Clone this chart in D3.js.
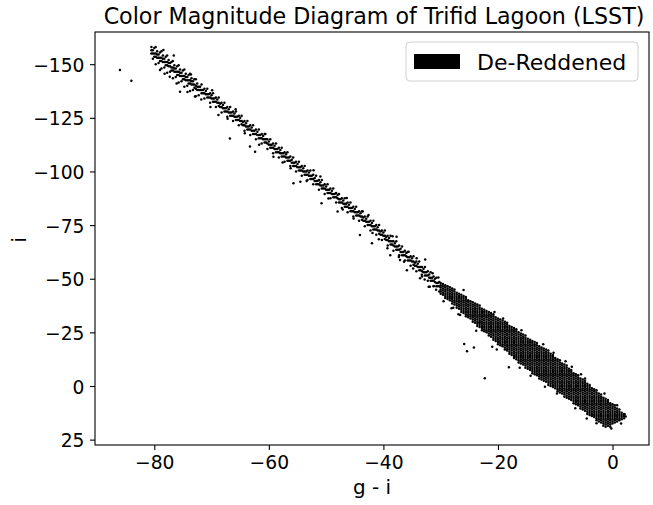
<!DOCTYPE html>
<html><head><meta charset="utf-8">
<script src="https://cdn.jsdelivr.net/npm/d3@7"></script>
<style>body{margin:0;background:#fff}svg text{font-family:"DejaVu Sans",sans-serif;fill:#000}</style>
</head><body><svg id="c" width="653" height="505"></svg>
<script>
const titleText = "Color Magnitude Diagram of Trifid Lagoon (LSST)";
const xLabel = "g - i";
const yLabel = "i";
const legendLabel = "De-Reddened";
const xTicks = [-80, -60, -40, -20, 0];
const yTicks = [-150, -125, -100, -75, -50, -25, 0, 25];
const xDomain = [-90.35, 6.37];
const yDomain = [-165, 27.5];

// isolated stars [g-i, i]
const outliers = [[-86.0,-147.3],[-84.0,-142.3],[-66.8,-115.4],[-25.9,-19.6],[-25.4,-16.2],[-24.2,-17.9],[-21.0,-18.3],[-18.1,-8.7],[-22.3,-3.6]];

// upper (sparse) branch: [g-i, [i values at that colour]]
const upperBranch = [
[-80.50,[-158,-156.5,-155]],[-80.25,[-156.5,-155,-152.5]],[-80.00,[-157.5,-155,-153.5]],[-79.75,[-155,-153.5,-158,-150]],
[-79.50,[-156,-154.5,-153]],[-79.25,[-154.5,-153,-150.5]],[-79.00,[-155.5,-153,-151.5]],[-78.75,[-153,-151.5,-156,-148]],
[-78.50,[-154,-152.5,-151]],[-78.25,[-152.5,-151,-148.5]],[-78.00,[-153.5,-151,-149.5]],[-77.75,[-151,-149.5,-154,-146]],
[-77.50,[-152,-150.5,-149]],[-77.25,[-150.5,-149,-146.5]],[-77.00,[-151,-148.5,-147]],[-76.75,[-148.5,-147,-151.5,-143.5]],
[-76.50,[-149.5,-148,-146.5]],[-76.25,[-148,-146.5,-144]],[-76.00,[-149,-146.5,-145]],[-75.75,[-146.5,-145,-149.5,-141.5]],
[-75.50,[-147.5,-146,-144.5]],[-75.25,[-146,-144.5,-142]],[-75.00,[-147,-144.5,-143]],[-74.75,[-144.5,-143,-147.5,-139.5]],
[-74.50,[-145.5,-144,-142.5]],[-74.25,[-144,-142.5,-140]],[-74.00,[-145,-142.5,-141]],[-73.75,[-142.5,-141,-145.5,-137.5]],
[-73.50,[-143.5,-142,-140.5]],[-73.25,[-142,-140.5,-138]],[-73.00,[-143,-140.5,-139]],[-72.75,[-140,-138.5,-143,-135]],
[-72.50,[-141,-139.5,-138]],[-72.25,[-139.5,-138,-135.5]],
[-72.00,[-139.5,-138]],[-71.75,[-138,-136.5,-140.5]],[-71.50,[-138,-136.5]],[-71.25,[-136.5,-138.5,-134]],
[-71.00,[-137.5,-136]],[-70.75,[-136,-134.5,-138.5]],[-70.50,[-136,-134.5]],[-70.25,[-134.5,-136.5,-132]],
[-70.00,[-135.5,-134]],[-69.75,[-134,-132.5,-136.5]],[-69.50,[-134,-132.5]],[-69.25,[-132.5,-134.5,-130]],
[-69.00,[-133.5,-132]],[-68.75,[-132,-130.5,-134.5]],[-68.50,[-131.5,-130]],[-68.25,[-130,-132,-127.5]],
[-68.00,[-131,-129.5]],[-67.75,[-129.5,-128,-132]],[-67.50,[-129.5,-128]],[-67.25,[-128,-130,-125.5]],
[-67.00,[-129,-127.5]],[-66.75,[-127.5,-126,-130]],[-66.50,[-127.5,-126]],[-66.25,[-126,-128,-123.5]],
[-66.00,[-127,-125.5]],[-65.75,[-125.5,-124,-128]],[-65.50,[-125.5,-124]],[-65.25,[-124,-126,-121.5]],
[-65.00,[-125,-123.5]],[-64.75,[-123.5,-122,-126]],[-64.50,[-123,-121.5]],[-64.25,[-121.5,-123.5,-119]],
[-64.00,[-122.5,-121]],[-63.75,[-121,-119.5,-123.5]],[-63.50,[-121,-119.5]],[-63.25,[-119.5,-121.5,-117]],
[-63.00,[-120.5,-119]],[-62.75,[-119,-117.5,-121.5]],[-62.50,[-119,-117.5]],[-62.25,[-117.5,-119.5,-115]],
[-62.00,[-118.5,-117]],[-61.75,[-117,-115.5,-119.5]],[-61.50,[-117,-115.5]],[-61.25,[-115.5,-117.5,-113]],
[-61.00,[-116.5,-115]],[-60.75,[-115,-113.5,-117.5]],[-60.50,[-115,-113.5]],[-60.25,[-113,-115,-110.5]],
[-60.00,[-114,-112.5]],[-59.75,[-112.5,-111,-115]],[-59.50,[-112.5,-111]],[-59.25,[-111,-113,-108.5]],
[-59.00,[-112,-110.5]],[-58.75,[-110.5,-109,-113]],[-58.50,[-110.5,-109]],[-58.25,[-109,-111,-106.5]],
[-58.00,[-110,-108.5]],[-57.75,[-108.5,-107,-111]],[-57.50,[-108.5,-107]],[-57.25,[-107,-109,-104.5]],
[-57.00,[-108,-106.5]],[-56.75,[-106.5,-105,-109]],[-56.50,[-106.5,-105]],[-56.25,[-105,-107,-102.5]],
[-56.00,[-105.5,-104]],[-55.75,[-104,-102.5,-106.5]],[-55.50,[-104,-102.5]],[-55.25,[-102.5,-104.5,-100]],
[-55.00,[-103.5,-102]],[-54.75,[-102,-100.5,-104.5]],[-54.50,[-102,-100.5]],[-54.25,[-100.5,-102.5,-98]],
[-54.00,[-101.5,-100]],[-53.75,[-100,-98.5,-102.5]],[-53.50,[-100,-98.5]],[-53.25,[-98.5,-100.5,-96]],
[-53.00,[-99.5,-98]],[-52.75,[-98,-96.5,-100.5]],[-52.50,[-98,-96.5]],[-52.25,[-96.5,-98.5,-94]],
[-52.00,[-97,-95.5]],[-51.75,[-95.5,-94,-98]],[-51.50,[-95.5,-94]],[-51.25,[-94,-96,-91.5]],
[-51.00,[-95,-93.5]],[-50.75,[-93.5,-92,-96]],[-50.50,[-93.5,-92]],[-50.25,[-92,-94,-89.5]],
[-50.00,[-93,-91.5]],[-49.75,[-91.5,-90,-94]],[-49.50,[-91.5,-90]],[-49.25,[-90,-92,-87.5]],
[-49.00,[-91,-89.5]],[-48.75,[-89.5,-88,-92]],[-48.50,[-89.5,-88]],[-48.25,[-88,-90,-85.5]],
[-48.00,[-89,-87.5]],[-47.75,[-87,-85.5,-89.5]],[-47.50,[-87,-85.5]],[-47.25,[-85.5,-87.5,-83]],
[-47.00,[-86.5,-85]],[-46.75,[-85,-83.5,-87.5]],[-46.50,[-85,-83.5]],[-46.25,[-83.5,-85.5,-81]],
[-46.00,[-84.5,-83]],[-45.75,[-83,-81.5,-85.5]],[-45.50,[-83,-81.5]],[-45.25,[-81.5,-83.5,-79]],
[-45.00,[-82.5,-81]],[-44.75,[-81,-79.5,-83.5]],[-44.50,[-81,-79.5]],[-44.25,[-79.5,-81.5,-77]],
[-44.00,[-80.5,-79]],[-43.75,[-79,-77.5,-81.5]],[-43.50,[-78.5,-77]],[-43.25,[-77,-79,-74.5]],
[-43.00,[-78,-76.5]],[-42.75,[-76.5,-75,-79]],[-42.50,[-76.5,-75]],[-42.25,[-75,-77,-72.5]],
[-42.00,[-76,-74.5]],[-41.75,[-74.5,-73,-77]],[-41.50,[-74.5,-73]],[-41.25,[-73,-75,-70.5]],
[-41.00,[-74,-72.5]],[-40.75,[-72.5,-71,-75]],[-40.50,[-72,-70.5]],[-40.25,[-70.5,-72.5,-68]],
[-40.00,[-71.5,-70]],[-39.75,[-70,-68.5,-72.5]],[-39.50,[-69.5,-68]],[-39.25,[-68,-70,-65.5]],
[-39.00,[-69,-67.5]],[-38.75,[-67.5,-66,-70]],[-38.50,[-67.5,-66]],[-38.25,[-65.5,-67.5,-63]],
[-38.00,[-66.5,-65]],[-37.75,[-65,-63.5,-67.5]],[-37.50,[-65,-63.5]],[-37.25,[-63.5,-65.5,-61]],
[-37.00,[-64,-62.5]],[-36.75,[-62.5,-61,-65]],[-36.50,[-62.5,-61]],[-36.25,[-61,-63,-58.5]],
[-36.00,[-62,-60.5]],[-35.75,[-60,-58.5,-62.5]],[-35.50,[-60,-58.5]],[-35.25,[-58.5,-60.5,-56]],
[-35.00,[-59.5,-58]],[-34.75,[-58,-56.5,-60.5]],[-34.50,[-57.5,-56]],[-34.25,[-56,-58,-53.5]],
[-34.00,[-57,-55.5]],[-33.75,[-55.5,-54,-58]],[-33.50,[-55.5,-54]],[-33.25,[-53.5,-55.5,-51]],
[-33.00,[-54.5,-53]],[-32.75,[-53,-51.5,-55.5]],[-32.50,[-53,-51.5]],[-32.25,[-51.5,-53.5,-49]],
[-32.00,[-52,-50.5]],[-31.75,[-50.5,-49,-53]],[-31.50,[-50.5,-49]],[-31.25,[-49,-51,-46.5]],
[-31.00,[-50,-48.5]],[-30.75,[-48,-46.5,-50.5]],[-30.50,[-48,-46.5]],[-30.25,[-46.5,-48.5,-44]]
];

// stars scattered around the upper branch [g-i, i]
const upperScatter = [[-79,-147.3],[-76.1,-141],[-75.5,-137.2],[-72.9,-134.9],[-70.2,-130],[-68.8,-126.3],[-63.3,-111.6],
[-62.4,-109.2],[-55.7,-94.5],[-54.5,-95.2],[-50.8,-85.2],[-48,-81.3],[-44.1,-70.4],[-42,-66.5],[-38.8,-61],[-37.1,-58.7],
[-35.9,-54],[-33.6,-50.2],[-32.1,-46.3],[-78.4,-156.6],[-76.6,-154],[-51,-97.6],[-42.6,-79.7],[-37.7,-69.6],[-32.7,-59],
[-26,-44.8],[-78.2,-145.5],[-77.3,-144.2],[-74.2,-137],[-73.6,-145.2],[-71.8,-133.5],[-69.9,-137.8],[-67.2,-124.6],
[-65.8,-129],[-64.2,-117.8],[-61.7,-112.4],[-60.6,-117.5],[-59.2,-106.9],[-57.6,-104.2],[-56.2,-101.5],[-53.4,-95.6],
[-52.2,-100.6],[-49.6,-87.4],[-47.1,-82.3],[-46.4,-87.6],[-45.2,-78.1],[-43.6,-81.3],[-41.9,-71.3],[-40.8,-68.4],
[-39.3,-64.2],[-38.4,-69.8],[-37.3,-60.1],[-36.4,-57.9],[-35.6,-62.6],[-34.8,-54.8],[-34.2,-59.6],[-33.3,-51.8],
[-32.8,-49.6],[-31.4,-52.6],[-31.2,-46.6],[-30.8,-44.9],[-30.4,-50.6]];

// lower (dense) branch: [g-i, [i values at that colour]]
const lowerBranch = [
[-30.0,[-48,-47,-46,-45,-44,-43]],
[-29.6,[-47.5,-46.5,-45.5,-44.5,-43.5,-42.5]],
[-29.2,[-47,-46,-45,-44,-43,-42,-41]],
[-28.8,[-46.5,-45.5,-44.5,-43.5,-42.5,-41.5,-40.5]],
[-28.4,[-46,-45,-44,-43,-42,-41,-40]],
[-28.0,[-45.5,-44.5,-43.5,-42.5,-41.5,-40.5,-39.5,-38.5]],
[-27.6,[-45,-44,-43,-42,-41,-40,-39,-38]],
[-27.2,[-43.5,-42.5,-41.5,-40.5,-39.5,-38.5,-37.5,-36.5]],
[-26.8,[-43,-42,-41,-40,-39,-38,-37,-36]],
[-26.4,[-42.5,-41.5,-40.5,-39.5,-38.5,-37.5,-36.5,-35.5,-34.5]],
[-26.0,[-42,-41,-40,-39,-38,-37,-36,-35,-34]],
[-25.6,[-41.5,-40.5,-39.5,-38.5,-37.5,-36.5,-35.5,-34.5,-33.5,-32.5]],
[-25.2,[-40,-39,-38,-37,-36,-35,-34,-33,-32]],
[-24.8,[-39.5,-38.5,-37.5,-36.5,-35.5,-34.5,-33.5,-32.5,-31.5]],
[-24.4,[-39,-38,-37,-36,-35,-34,-33,-32,-31,-30]],
[-24.0,[-38.5,-37.5,-36.5,-35.5,-34.5,-33.5,-32.5,-31.5,-30.5,-29.5]],
[-23.6,[-38,-37,-36,-35,-34,-33,-32,-31,-30,-29,-28]],
[-23.2,[-37.5,-36.5,-35.5,-34.5,-33.5,-32.5,-31.5,-30.5,-29.5,-28.5,-27.5]],
[-22.8,[-36,-35,-34,-33,-32,-31,-30,-29,-28,-27,-26]],
[-22.4,[-35.5,-34.5,-33.5,-32.5,-31.5,-30.5,-29.5,-28.5,-27.5,-26.5,-25.5]],
[-22.0,[-35,-34,-33,-32,-31,-30,-29,-28,-27,-26,-25]],
[-21.6,[-34.5,-33.5,-32.5,-31.5,-30.5,-29.5,-28.5,-27.5,-26.5,-25.5,-24.5,-23.5]],
[-21.2,[-34,-33,-32,-31,-30,-29,-28,-27,-26,-25,-24,-23]],
[-20.8,[-33.5,-32.5,-31.5,-30.5,-29.5,-28.5,-27.5,-26.5,-25.5,-24.5,-23.5,-22.5,-21.5]],
[-20.4,[-32,-31,-30,-29,-28,-27,-26,-25,-24,-23,-22,-21]],
[-20.0,[-31.5,-30.5,-29.5,-28.5,-27.5,-26.5,-25.5,-24.5,-23.5,-22.5,-21.5,-20.5,-19.5]],
[-19.6,[-31,-30,-29,-28,-27,-26,-25,-24,-23,-22,-21,-20,-19]],
[-19.2,[-30.5,-29.5,-28.5,-27.5,-26.5,-25.5,-24.5,-23.5,-22.5,-21.5,-20.5,-19.5,-18.5]],
[-18.8,[-30,-29,-28,-27,-26,-25,-24,-23,-22,-21,-20,-19,-18,-17]],
[-18.4,[-29.5,-28.5,-27.5,-26.5,-25.5,-24.5,-23.5,-22.5,-21.5,-20.5,-19.5,-18.5,-17.5,-16.5]],
[-18.0,[-28,-27,-26,-25,-24,-23,-22,-21,-20,-19,-18,-17,-16,-15]],
[-17.6,[-27.5,-26.5,-25.5,-24.5,-23.5,-22.5,-21.5,-20.5,-19.5,-18.5,-17.5,-16.5,-15.5,-14.5]],
[-17.2,[-27,-26,-25,-24,-23,-22,-21,-20,-19,-18,-17,-16,-15,-14,-13]],
[-16.8,[-26.5,-25.5,-24.5,-23.5,-22.5,-21.5,-20.5,-19.5,-18.5,-17.5,-16.5,-15.5,-14.5,-13.5,-12.5]],
[-16.4,[-25,-24,-23,-22,-21,-20,-19,-18,-17,-16,-15,-14,-13,-12,-11]],
[-16.0,[-24.5,-23.5,-22.5,-21.5,-20.5,-19.5,-18.5,-17.5,-16.5,-15.5,-14.5,-13.5,-12.5,-11.5,-10.5]],
[-15.6,[-24,-23,-22,-21,-20,-19,-18,-17,-16,-15,-14,-13,-12,-11,-10]],
[-15.2,[-23.5,-22.5,-21.5,-20.5,-19.5,-18.5,-17.5,-16.5,-15.5,-14.5,-13.5,-12.5,-11.5,-10.5,-9.5,-8.5]],
[-14.8,[-22,-21,-20,-19,-18,-17,-16,-15,-14,-13,-12,-11,-10,-9,-8]],
[-14.4,[-21.5,-20.5,-19.5,-18.5,-17.5,-16.5,-15.5,-14.5,-13.5,-12.5,-11.5,-10.5,-9.5,-8.5,-7.5]],
[-14.0,[-21,-20,-19,-18,-17,-16,-15,-14,-13,-12,-11,-10,-9,-8,-7,-6]],
[-13.6,[-20.5,-19.5,-18.5,-17.5,-16.5,-15.5,-14.5,-13.5,-12.5,-11.5,-10.5,-9.5,-8.5,-7.5,-6.5,-5.5]],
[-13.2,[-19,-18,-17,-16,-15,-14,-13,-12,-11,-10,-9,-8,-7,-6,-5]],
[-12.8,[-18.5,-17.5,-16.5,-15.5,-14.5,-13.5,-12.5,-11.5,-10.5,-9.5,-8.5,-7.5,-6.5,-5.5,-4.5,-3.5]],
[-12.4,[-18,-17,-16,-15,-14,-13,-12,-11,-10,-9,-8,-7,-6,-5,-4,-3]],
[-12.0,[-17.5,-16.5,-15.5,-14.5,-13.5,-12.5,-11.5,-10.5,-9.5,-8.5,-7.5,-6.5,-5.5,-4.5,-3.5,-2.5]],
[-11.6,[-17,-16,-15,-14,-13,-12,-11,-10,-9,-8,-7,-6,-5,-4,-3,-2]],
[-11.2,[-16.5,-15.5,-14.5,-13.5,-12.5,-11.5,-10.5,-9.5,-8.5,-7.5,-6.5,-5.5,-4.5,-3.5,-2.5,-1.5,-0.5]],
[-10.8,[-15,-14,-13,-12,-11,-10,-9,-8,-7,-6,-5,-4,-3,-2,-1,0]],
[-10.4,[-14.5,-13.5,-12.5,-11.5,-10.5,-9.5,-8.5,-7.5,-6.5,-5.5,-4.5,-3.5,-2.5,-1.5,-0.5,0.5]],
[-10.0,[-13,-12,-11,-10,-9,-8,-7,-6,-5,-4,-3,-2,-1,0,1]],
[-9.6,[-12.5,-11.5,-10.5,-9.5,-8.5,-7.5,-6.5,-5.5,-4.5,-3.5,-2.5,-1.5,-0.5,0.5,1.5,2.5]],
[-9.2,[-12,-11,-10,-9,-8,-7,-6,-5,-4,-3,-2,-1,0,1,2,3]],
[-8.8,[-10.5,-9.5,-8.5,-7.5,-6.5,-5.5,-4.5,-3.5,-2.5,-1.5,-0.5,0.5,1.5,2.5,3.5]],
[-8.4,[-10,-9,-8,-7,-6,-5,-4,-3,-2,-1,0,1,2,3,4,5]],
[-8.0,[-9.5,-8.5,-7.5,-6.5,-5.5,-4.5,-3.5,-2.5,-1.5,-0.5,0.5,1.5,2.5,3.5,4.5,5.5]],
[-7.6,[-8,-7,-6,-5,-4,-3,-2,-1,0,1,2,3,4,5,6]],
[-7.2,[-7.5,-6.5,-5.5,-4.5,-3.5,-2.5,-1.5,-0.5,0.5,1.5,2.5,3.5,4.5,5.5,6.5]],
[-6.8,[-6,-5,-4,-3,-2,-1,0,1,2,3,4,5,6,7,8]],
[-6.4,[-5.5,-4.5,-3.5,-2.5,-1.5,-0.5,0.5,1.5,2.5,3.5,4.5,5.5,6.5,7.5,8.5]],
[-6.0,[-5,-4,-3,-2,-1,0,1,2,3,4,5,6,7,8,9]],
[-5.6,[-3.5,-2.5,-1.5,-0.5,0.5,1.5,2.5,3.5,4.5,5.5,6.5,7.5,8.5,9.5,10.5]],
[-5.2,[-3,-2,-1,0,1,2,3,4,5,6,7,8,9,10,11]],
[-4.8,[-2.5,-1.5,-0.5,0.5,1.5,2.5,3.5,4.5,5.5,6.5,7.5,8.5,9.5,10.5,11.5]],
[-4.4,[-1,0,1,2,3,4,5,6,7,8,9,10,11,12,13]],
[-4.0,[-0.5,0.5,1.5,2.5,3.5,4.5,5.5,6.5,7.5,8.5,9.5,10.5,11.5,12.5,13.5]],
[-3.6,[1,2,3,4,5,6,7,8,9,10,11,12,13,14]],
[-3.2,[1.5,2.5,3.5,4.5,5.5,6.5,7.5,8.5,9.5,10.5,11.5,12.5,13.5,14.5]],
[-2.8,[2,3,4,5,6,7,8,9,10,11,12,13,14,15,16]],
[-2.4,[3.5,4.5,5.5,6.5,7.5,8.5,9.5,10.5,11.5,12.5,13.5,14.5,15.5,16.5]],
[-2.0,[4,5,6,7,8,9,10,11,12,13,14,15,16,17]],
[-1.6,[5.5,6.5,7.5,8.5,9.5,10.5,11.5,12.5,13.5,14.5,15.5,16.5,17.5,18.5]],
[-1.2,[6,7,8,9,10,11,12,13,14,15,16,17,18,19]],
[-0.8,[6.5,7.5,8.5,9.5,10.5,11.5,12.5,13.5,14.5,15.5,16.5,17.5,18.5]],
[-0.4,[8,9,10,11,12,13,14,15,16,17,18,19]],
[0.0,[8.5,9.5,10.5,11.5,12.5,13.5,14.5,15.5,16.5,17.5]],
[0.4,[9,10,11,12,13,14,15,16,17]],
[0.8,[10.5,11.5,12.5,13.5,14.5,15.5,16.5]],
[1.2,[11,12,13,14,15,16]],
[1.6,[12.5,13.5,14.5,15.5]],
[2.0,[13,14,15]]
];

// stars scattered just outside the dense band [g-i, i]
const edgeScatter = [[-28.1,-36.2],[-26.6,-33.1],[-23.2,-29.7],[-19.1,-31.5],[-13.2,-20],[-10.3,-15.5],[-7.1,-9],[-4.8,-3.5],
[-11.8,0.3],[-9.7,3.5],[-6.5,10.4],[-4.5,15.1],[-2.8,17.4],[-27.8,-36.5],[-31.9,-46.3],[-20.6,-34.5],[-15.9,-26],[-12.1,-19.5],
[-8.2,-11.5],[-5.5,-5.5],[-1.4,3.5],[0.8,9],[2.3,14.2],[2.1,13.2],[1.5,17.5],[-0.2,19.8],[-14.3,-4.8],[-16.2,-8.5],[-20.2,-17],
[-23.8,-25.8],[-26.9,-33.4],[-29.5,-39.5]];

const M = {left: 95, right: 649, top: 32, bottom: 445};
const svg = d3.select("#c");
const x = d3.scaleLinear().domain(xDomain).range([M.left, M.right]);
const y = d3.scaleLinear().domain(yDomain).range([M.top, M.bottom]);

const pts = [];
outliers.forEach(p => pts.push(p));
upperBranch.forEach(([g, ys]) => ys.forEach(v => pts.push([g, v])));
upperScatter.forEach(p => pts.push(p));
lowerBranch.forEach(([g, ys]) => ys.forEach(v => pts.push([g, v])));
edgeScatter.forEach(p => pts.push(p));

svg.append("g").selectAll("circle").data(pts).join("circle")
  .attr("cx", d => x(d[0])).attr("cy", d => y(d[1])).attr("r", 1.25).attr("fill", "#000");

// axes
const xAxis = svg.append("g").attr("transform", `translate(0,${M.bottom})`)
  .call(d3.axisBottom(x).tickValues(xTicks).tickSize(5).tickSizeOuter(0));
xAxis.select(".domain").remove();
xAxis.selectAll(".tick line").attr("stroke", "#000").attr("stroke-width", 1.1);
xAxis.selectAll(".tick text").attr("y", 23.5).attr("dy", 0).style("font-size", "18.7px");

const yAxis = svg.append("g").attr("transform", `translate(${M.left},0)`)
  .call(d3.axisLeft(y).tickValues(yTicks).tickSize(5).tickSizeOuter(0));
yAxis.select(".domain").remove();
yAxis.selectAll(".tick line").attr("stroke", "#000").attr("stroke-width", 1.1);
yAxis.selectAll(".tick text").attr("x", -10.5).attr("dy", "0.38em").style("font-size", "18.7px");

svg.append("rect").attr("x", M.left).attr("y", M.top)
  .attr("width", M.right - M.left).attr("height", M.bottom - M.top)
  .attr("fill", "none").attr("stroke", "#000").attr("stroke-width", 1.1);

// title and labels
svg.append("text").attr("x", 374).attr("y", 24).attr("text-anchor", "middle")
  .style("font-size", "22.2px").text(titleText);
svg.append("text").attr("x", (M.left + M.right) / 2).attr("y", 494).attr("text-anchor", "middle")
  .style("font-size", "20px").text(xLabel);
svg.append("text").attr("transform", "translate(26,240) rotate(-90)").attr("text-anchor", "middle")
  .style("font-size", "20px").text(yLabel);

// legend
const lg = svg.append("g");
lg.append("rect").attr("x", 406).attr("y", 42).attr("width", 232).attr("height", 39).attr("rx", 4)
  .attr("fill", "#fff").attr("fill-opacity", 0.8).attr("stroke", "#d0d0d0").attr("stroke-width", 1);
lg.append("rect").attr("x", 414).attr("y", 54).attr("width", 46).attr("height", 15).attr("fill", "#000");
lg.append("text").attr("x", 477).attr("y", 69.5).style("font-size", "22px").text(legendLabel);
</script></body></html>
